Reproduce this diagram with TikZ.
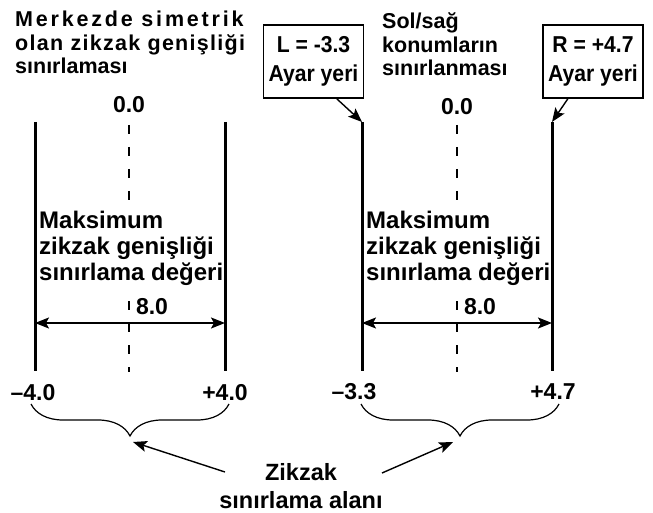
\documentclass[tikz,border=0pt]{standalone}
\usepackage{fontspec}
\setmainfont{Liberation Sans}
\newfontfamily\narrowsans{Liberation Sans}[FakeStretch=0.92]
\usetikzlibrary{positioning,arrows.meta,decorations.pathreplacing}
\tikzset{
  limit line/.style={
    line width=3pt
  },
  center line/.style={
    line width=1.2pt,
    dash pattern=on 9pt off 13pt
  },
  dim arrow/.style={
    {Stealth[length=14pt,width=11pt,inset=3pt]}-{Stealth[length=14pt,width=11pt,inset=3pt]},
    line width=1.4pt
  },
  pointer/.style={
    -{Stealth[length=14pt,width=11pt,inset=3pt]},
    line width=1.4pt
  },
  label text/.style={
    font=\fontsize{23}{24}\selectfont\bfseries,
    inner sep=0pt
  },
  title text/.style={
    label text,
    font=\fontsize{21.5}{23.5}\selectfont\bfseries,
    align=left,
    anchor=base west
  },
  value text/.style={
    label text,
    anchor=base
  },
  block text/.style={
    label text,
    font=\fontsize{24}{26}\selectfont\bfseries,
    align=left,
    anchor=base west,
    fill=white,
    inner ysep=4pt
  },
  set box/.style={
    draw,
    line width=1.8pt,
    label text,
    font=\fontsize{23}{29}\selectfont\narrowsans\bfseries,
    align=center,
    minimum width=100pt,
    minimum height=73pt
  },
  zone brace/.style={
    decorate,
    decoration={brace, mirror, amplitude=32pt},
    line width=1.2pt
  }
}

\begin{document}
\begin{tikzpicture}[x=1pt, y=-1pt]
  \useasboundingbox (0,0) rectangle (653,513);

  % Titles
  \node[title text] (symtitle) at (15,74)
    {{\addfontfeature{LetterSpace=13}Merkezde simetrik}\\
     {\addfontfeature{LetterSpace=6}olan zikzak genişliği}\\
     sınırlaması};
  \node[title text] (lrtitle) at (382,76) {Sol/sağ\\konumların\\sınırlanması};

  % Setting boxes
  \node[set box] (boxl) at (313.5,61.5) {L = -3.3\\Ayar yeri};
  \node[set box] (boxr) at (593,61.5) {R = +4.7\\Ayar yeri};

  % Line ends
  \coordinate (la top) at (35,122);   \coordinate (la bot) at (35,371);
  \coordinate (lb top) at (225,122);  \coordinate (lb bot) at (225,371);
  \coordinate (lc top) at (129,125);  \coordinate (lc bot) at (129,372);
  \coordinate (ra top) at (362,122);  \coordinate (ra bot) at (362,371);
  \coordinate (rb top) at (552,122);  \coordinate (rb bot) at (552,371);
  \coordinate (rc top) at (457,125);  \coordinate (rc bot) at (457,372);

  % Center lines
  \draw[center line] (lc top) -- (lc bot);
  \draw[center line] (rc top) -- (rc bot);

  % Zero labels
  \node[value text] (zerol) at (129,113) {0.0};
  \node[value text] (zeror) at (457,115) {0.0};

  % Width texts
  \node[block text] (maxl) at (39,280) {Maksimum\\zikzak genişliği\\sınırlama değeri};
  \node[block text] (maxr) at (366,280) {Maksimum\\zikzak genişliği\\sınırlama değeri};

  % Limit lines
  \draw[limit line] (la top) -- (la bot);
  \draw[limit line] (lb top) -- (lb bot);
  \draw[limit line] (ra top) -- (ra bot);
  \draw[limit line] (rb top) -- (rb bot);

  % Width dimensions
  \node[value text] (widthl) at (152,314) {8.0};
  \node[value text] (widthr) at (480,314) {8.0};
  \draw[dim arrow] (35,323) -- (225,323);
  \draw[dim arrow] (362,323) -- (552,323);

  % Limit values
  \node[value text] (minl) at (33,400) {–4.0};
  \node[value text] (maxvl) at (225,400) {+4.0};
  \node[value text] (minr) at (354,399) {–3.3};
  \node[value text] (maxvr) at (553,399) {+4.7};

  % Braces
  \draw[zone brace] (31,404) -- (229,404);
  \draw[zone brace] (361,404) -- (559,404);
  \coordinate (tipl) at (133,442);
  \coordinate (tipr) at (453,442);

  % Zone label
  \node[label text, align=center, anchor=base,
        font=\fontsize{23.5}{28}\selectfont\bfseries] (zone) at (301,508)
    {Zikzak\\sınırlama alanı};
  \coordinate (taill) at (225,472);
  \coordinate (tailr) at (382,473);

  % Pointers
  \draw[pointer] (boxl.-58) -- (ra top);
  \draw[pointer] (boxr.-124) -- (rb top);
  \draw[pointer] (taill) -- (tipl);
  \draw[pointer] (tailr) -- (tipr);
\end{tikzpicture}
\end{document}
